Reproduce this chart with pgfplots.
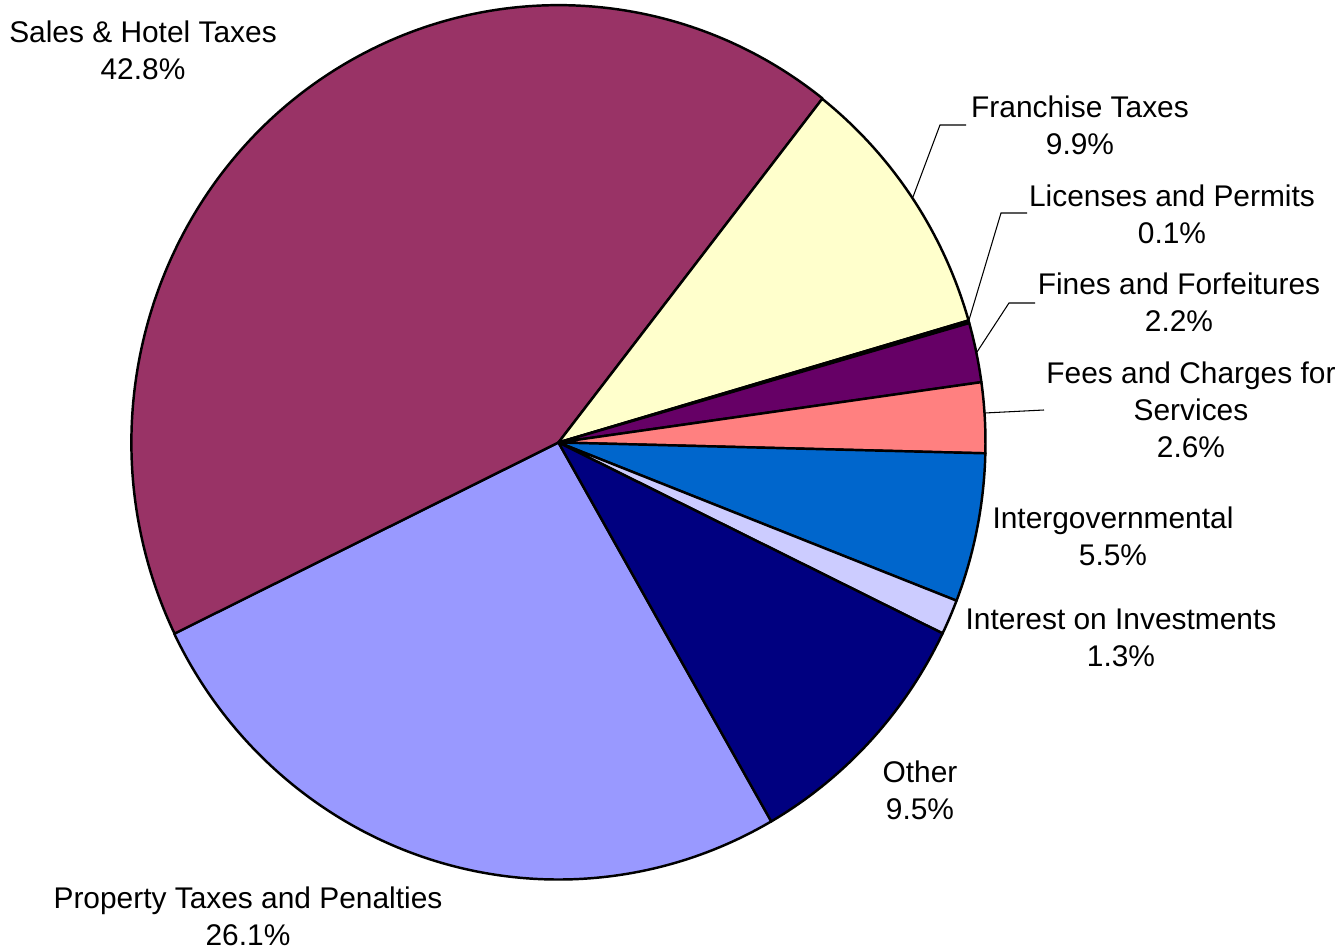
\documentclass[border=0pt]{standalone}
\usepackage{pgfplots}
\pgfplotsset{compat=1.18}
\usepackage{fontspec}
\setmainfont{Liberation Sans}

\definecolor{cProp}{HTML}{9999FF}
\definecolor{cSales}{HTML}{993366}
\definecolor{cFran}{HTML}{FFFFCC}
\definecolor{cLic}{HTML}{CCFFFF}
\definecolor{cFines}{HTML}{660066}
\definecolor{cFees}{HTML}{FF8080}
\definecolor{cInter}{HTML}{0066CC}
\definecolor{cInt}{HTML}{CCCCFF}
\definecolor{cOther}{HTML}{000080}

% one slice: share in percent, colour; clockwise from \startA
\newcommand\slice[2]{%
  \pgfmathsetmacro\endA{\startA-3.6*#1}%
  \pgfmathsetmacro\xs{427*cos(\startA)}%
  \pgfmathsetmacro\ys{437*sin(\startA)}%
  \edef\temp{\noexpand\draw[fill=#2] (axis cs:0,0) -- (axis cs:\xs,\ys)
    arc[start angle=\startA, end angle=\endA, x radius=4.27cm, y radius=4.37cm] -- cycle;}%
  \temp
  \global\let\startA\endA}

\begin{document}
\begin{tikzpicture}[lbl/.style={align=center, font=\fontsize{8.5}{10.6}\selectfont}]
\begin{axis}[
    name=ax,
    x=0.01cm, y=0.01cm,
    xmin=-558.5, xmax=782.5,
    ymin=-508.5, ymax=442.5,
    hide axis, clip=false,
  ]
  \gdef\startA{-60.1}
  \begin{scope}[line width=0.7pt, line join=round]
  \slice{26.1}{cProp}   % Property Taxes and Penalties
  \slice{42.8}{cSales}  % Sales & Hotel Taxes
  \slice{9.9}{cFran}    % Franchise Taxes
  \slice{0.1}{cLic}     % Licenses and Permits
  \slice{2.2}{cFines}   % Fines and Forfeitures
  \slice{2.6}{cFees}    % Fees and Charges for Services
  \slice{5.5}{cInter}   % Intergovernmental
  \slice{1.3}{cInt}     % Interest on Investments
  \slice{9.5}{cOther}   % Other
  \end{scope}

  % leader lines
  \addplot[black, line width=0.3pt, no marks] coordinates {(354.5,245.5) (381.5,317.5) (407.5,317.5)};
  \addplot[black, line width=0.3pt, no marks] coordinates {(410.5,122.5) (442.5,229.5) (468.5,229.5)};
  \addplot[black, line width=0.3pt, no marks] coordinates {(418.5,90.5) (450.5,139.5) (476.5,139.5)};
  \addplot[black, line width=0.3pt, no marks] coordinates {(426.5,29.5) (485.5,32.5)};

  \node[lbl] at (axis cs:-415.5,392.5) {Sales \& Hotel Taxes\\42.8\%};
  \node[lbl] at (axis cs:521.5,317.5) {Franchise Taxes\\9.9\%};
  \node[lbl] at (axis cs:613.5,228.5) {Licenses and Permits\\0.1\%};
  \node[lbl] at (axis cs:620.5,140.5) {Fines and Forfeitures\\2.2\%};
  \node[lbl] at (axis cs:632.5,32.5) {Fees and Charges for\\Services\\2.6\%};
  \node[lbl] at (axis cs:554.5,-93.5) {Intergovernmental\\5.5\%};
  \node[lbl] at (axis cs:562.5,-195.5) {Interest on Investments\\1.3\%};
  \node[lbl] at (axis cs:361.5,-347.5) {Other\\9.5\%};
  \node[lbl] at (axis cs:-310.5,-473.5) {Property Taxes and Penalties\\26.1\%};
\end{axis}
\pgfresetboundingbox
\path (ax.south west) rectangle (ax.north east);
\end{tikzpicture}
\end{document}
